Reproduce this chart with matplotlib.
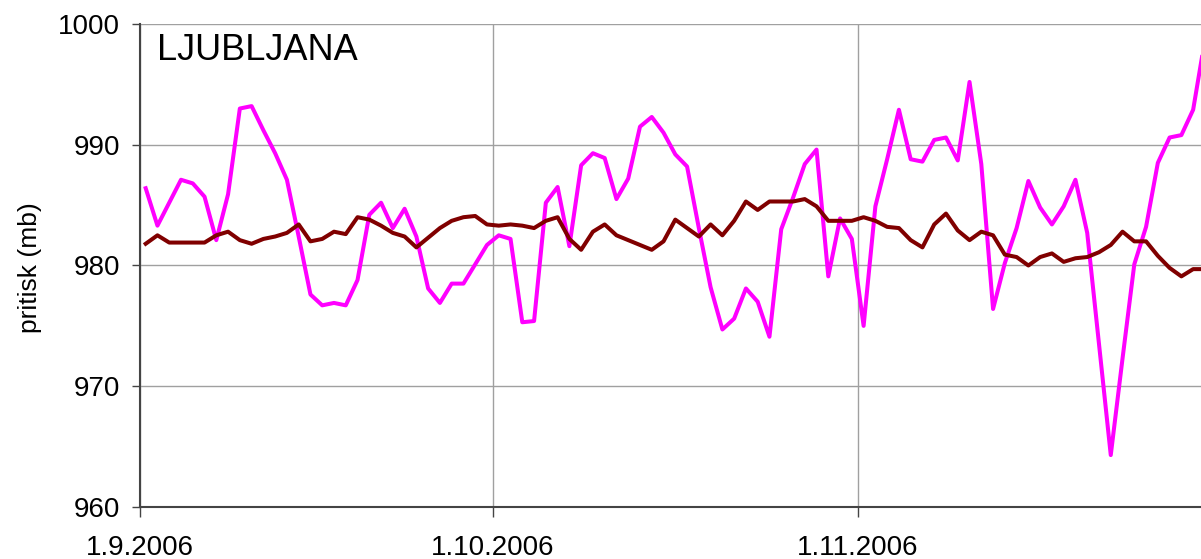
import numpy as np
import pandas as pd
import matplotlib
matplotlib.use("Agg")
import matplotlib.pyplot as plt
import matplotlib.dates as mdates

plt.rcParams['font.family'] = ['Liberation Sans', 'DejaVu Sans']

# daily values 1.9.2006 - 30.11.2006
days = pd.date_range("2006-09-01", periods=91, freq="D") + pd.Timedelta(hours=12)

pressure = [986.4, 983.3, 985.2, 987.1, 986.8, 985.7, 982.1, 985.9, 993.0, 993.2,
            991.2, 989.3, 987.1, 982.4, 977.6, 976.7, 976.9, 976.7, 978.8, 984.2,
            985.2, 983.1, 984.7, 982.4, 978.1, 976.9, 978.5, 978.5, 980.1, 981.7,
            982.5, 982.2, 975.3, 975.4, 985.2, 986.5, 981.6, 988.3, 989.3, 988.9,
            985.5, 987.2, 991.5, 992.3, 991.0, 989.2, 988.2, 983.1, 978.2, 974.7,
            975.6, 978.1, 977.0, 974.1, 983.0, 985.6, 988.4, 989.6, 979.1, 983.9,
            982.2, 975.0, 984.9, 988.8, 992.9, 988.8, 988.6, 990.4, 990.6, 988.7,
            995.2, 988.4, 976.4, 980.2, 983.1, 987.0, 984.8, 983.4, 984.9, 987.1,
            982.7, 973.5, 964.3, 972.3, 980.1, 983.2, 988.5, 990.6, 990.8, 992.9,
            998.7]

mean_pressure = [981.8, 982.5, 981.9, 981.9, 981.9, 981.9, 982.5, 982.8, 982.1, 981.8,
                 982.2, 982.4, 982.7, 983.4, 982.0, 982.2, 982.8, 982.6, 984.0, 983.8,
                 983.3, 982.7, 982.4, 981.5, 982.3, 983.1, 983.7, 984.0, 984.1, 983.4,
                 983.3, 983.4, 983.3, 983.1, 983.7, 984.0, 982.2, 981.3, 982.8, 983.4,
                 982.5, 982.1, 981.7, 981.3, 982.0, 983.8, 983.1, 982.4, 983.4, 982.5,
                 983.7, 985.3, 984.6, 985.3, 985.3, 985.3, 985.5, 984.9, 983.7, 983.7,
                 983.7, 984.0, 983.7, 983.2, 983.1, 982.1, 981.5, 983.4, 984.3, 982.9,
                 982.1, 982.8, 982.5, 980.9, 980.7, 980.0, 980.7, 981.0, 980.3, 980.6,
                 980.7, 981.1, 981.7, 982.8, 982.0, 982.0, 980.8, 979.8, 979.1, 979.7,
                 979.7]

tick_dates = pd.to_datetime(["2006-09-01", "2006-10-01", "2006-11-01"])
tick_labels = ["1.9.2006", "1.10.2006", "1.11.2006"]

fig = plt.figure(figsize=(12.01, 5.59), dpi=100)
ax = fig.add_axes([139.8 / 1201, 52 / 559, 1071 / 1201, 483 / 559])

ax.plot(days, pressure, color='#FF00FF', lw=2.9, zorder=3)
ax.plot(days, mean_pressure, color='#800000', lw=2.9, zorder=4)

ax.set_xlim(pd.Timestamp("2006-09-01"), pd.Timestamp("2006-12-01"))
ax.set_ylim(960, 1000)
ax.set_yticks([960, 970, 980, 990, 1000])
ax.set_xticks(tick_dates)
ax.set_xticklabels(tick_labels)

ax.grid(True, color='#a0a0a0', lw=1.0)
ax.set_axisbelow(True)
for s in ['top', 'right']:
    ax.spines[s].set_visible(False)
for s in ['left', 'bottom']:
    ax.spines[s].set_color('#444444')
    ax.spines[s].set_linewidth(1.5)

ax.tick_params(axis='y', direction='out', length=6, width=1, color='#444444',
               labelsize=20, pad=8)
ax.tick_params(axis='x', direction='out', length=7, width=1, color='#444444',
               labelsize=20, pad=13)

fig.text(30 / 1201, 1 - 268 / 559, 'pritisk (mb)', rotation=90,
         ha='center', va='center', fontsize=19)
fig.text(157 / 1201, 1 - 60 / 559, 'LJUBLJANA', ha='left', va='baseline',
         fontsize=26)

fig.savefig("out.png", dpi=100)
plt.close(fig)
